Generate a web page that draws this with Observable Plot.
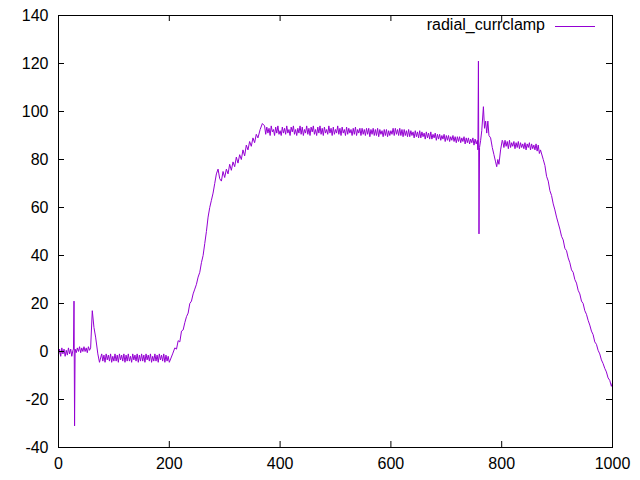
<!DOCTYPE html>
<html>
<head>
<meta charset="utf-8">
<script src="https://cdn.jsdelivr.net/npm/d3@7"></script>
<script src="https://cdn.jsdelivr.net/npm/@observablehq/plot@0.6"></script>
<style>
  html, body { margin: 0; padding: 0; background: #fff; }
  #wrap { position: relative; width: 640px; height: 480px; font-family: "Liberation Sans", Arial, sans-serif; }
  #legend-text { position: absolute; right: 95px; top: 16px; font-size: 16px; line-height: 18px; color: #000; white-space: nowrap; }
  #legend-line { position: absolute; left: 555px; width: 40px; top: 26px; border-top: 1px solid #9400d3; }
</style>
</head>
<body>
<div id="wrap"></div>
<script>
const seriesName = "radial_currclamp";
const xTicks = [0, 200, 400, 600, 800, 1000];
const yTicks = [-40, -20, 0, 20, 40, 60, 80, 100, 120, 140];

const t = [
  0,2,4,6,8,10,12,14,16,18,20,22,24,26,27,28,29,30,32,34,36,38,40,42,44,46,48,50,52,54,56,58,61,64,67,71,74,
  78,80,82,84,86,88,90,92,94,96,
  98,100,102,104,106,108,110,112,114,116,
  118,120,122,124,126,128,130,132,134,136,
  138,140,142,144,146,148,150,152,154,156,
  158,160,162,164,166,168,170,172,174,176,
  178,180,182,184,186,188,190,192,194,196,
  198,200,
  206,210,213,216,219,222,225,228,231,234,237,240,243,246,249,252,255,258,261,264,267,270,273,276,279,282,285,288,291,
  294,297,300,303,306,309,312,315,318,321,324,327,330,333,336,339,342,345,348,351,354,357,360,364,368,
  372,374,376,378,380,382,384,386,388,390,
  392,394,396,398,400,402,404,406,408,410,
  412,414,416,418,420,422,424,426,428,430,
  432,434,436,438,440,442,444,446,448,450,
  452,454,456,458,460,462,464,466,468,470,
  472,474,476,478,480,482,484,486,488,490,
  492,494,496,498,500,502,504,506,508,510,
  512,514,516,518,520,522,524,526,528,530,
  532,534,536,538,540,542,544,546,548,550,
  552,554,556,558,560,562,564,566,568,570,
  572,574,576,578,580,582,584,586,588,590,
  592,594,596,598,600,
  602,604,606,608,610,612,614,616,618,620,
  622,624,626,628,630,632,634,636,638,640,
  642,644,646,648,650,652,654,656,658,660,
  662,664,666,668,670,672,674,676,678,680,
  682,684,686,688,690,692,694,696,698,700,
  702,704,706,708,710,712,714,716,718,720,
  722,724,726,728,730,732,734,736,738,740,
  742,744,746,748,750,752,754,756,
  757,758,759,760,
  762,764,767,769,771,773,775,777,780,783,786,789,791,793,795,798,801,
  802,804,806,808,810,812,814,816,818,820,
  822,824,826,828,830,832,834,836,838,840,
  842,844,846,848,850,852,854,856,858,860,
  862,864,866,868,870,
  875,878,881,884,887,890,893,896,899,902,905,908,911,914,917,920,923,926,929,932,935,938,941,944,947,950,953,956,959,962,965,968,971,974,977,980,983,986,989,992,995,998,1000
];

const v = [
  -1.5,1,-2,1.5,-1,1,-2,0.5,-1.5,1.5,-1,1,-2,0.5,1,21,-31,1,-0.5,1.5,0,2,-0.5,1.5,0,2,0,1.5,-0.5,2,0.5,1.5,17,10,6,-1,-4.5,
  -1,-4,-1.5,-4.5,-1,-3.5,-1.5,-4,-1,-4.5,
  -2,-4,-1,-4,-1.5,-4.5,-1,-3.5,-1.5,-4,
  -1,-4.5,-1.5,-4,-1,-4,-2,-4.5,-1,-3.5,
  -1.5,-4,-1,-4.5,-1.5,-4,-1,-4,-1.5,-4.5,
  -1,-3.5,-1.5,-4,-1,-4.5,-2,-4,-1,-4,
  -1.5,-4.5,-1,-3.5,-1.5,-4,-1,-4.5,-1.5,-4,
  -2,-4.5,
  -1,1.5,1,4.5,4,8.5,9,12,14.5,16,20,21,24,26,28,31,33,37,40,45,50,56,60,63,66,70,74,76,72,
  71,75,72.5,76,74,78,75.5,79,77,81,78.5,82,80,84,81.5,86,84,87.5,85.5,89,87,90.5,89,92.5,95,
  94,90.5,93.5,91,93,90,94,91.5,92.5,90,
  93.5,91,94,90.5,92,90,93.5,91,93,90.5,
  94,91,92.5,90,93.5,91.5,94,90.5,92.5,90,
  93,91,94,90.5,93.5,90,92.5,91,94,90.5,
  93,90,93.5,91.5,94,90.5,92.5,90,93.5,91,
  94,90.5,93,90,93.5,91,92.5,90.5,94,91,
  93,90,93.5,90.5,92.5,91,94,90.5,93,90,
  93.5,91,92.5,90,93.5,90.5,93,91,92.5,90,
  93,90.5,93.5,90,92.5,91,93,90,93,90.5,
  92.5,90,93,90.5,93,89.5,92.5,90.5,93,90,
  92.5,90,93,89.5,92.5,90.5,92,89.5,92.5,90,
  92.5,89.5,92,90,92,
  90.5,93,90,93,90.5,92.5,90,93,90,92.5,
  89.5,92.5,90,92,89.5,92.5,89.5,92,90,91.5,
  89,92,89.5,91.5,89,92,89,91.5,89.5,91,
  88.5,91.5,89,91,88.5,91.5,88.5,90.5,89,91,
  88,90.5,88.5,90.5,88,90,88.5,90.5,87.5,90,
  88,90,87.5,89.5,88,90,87.5,89.5,87,89.5,
  87.5,89.5,87,89,87.5,89.5,86.5,89,87,89,
  86.5,88.5,87,89,86,88.5,86.5,88,
  84,121,49,85,
  88,92,102,93,96,91,96,90,89,85,82,79,77,80,78,84,88,
  87.5,85,88,85.5,87.5,84.5,88,85,87,85.5,
  87.5,84.5,87,85,87.5,84.5,87,85,86.5,84.5,
  87,84,86.5,85,87,84,86.5,84.5,86,84,
  86.5,83.5,86,82.5,84,
  80,77.5,73,71,67,65,61.5,59,56,53.5,51,48,46.5,43,42,39,37,34,33,30,28.5,25.5,24,21,20,17,15.5,13,11,8.5,7,4,3,0.5,-1,-3.5,-5,-7,-8.5,-11,-12,-14.5,-13
];

const idx = d3.range(Math.min(t.length, v.length));
const W = 640, H = 480, mL = 58, mR = 28, mT = 15, mB = 33;
const fw = W - mL - mR, fh = H - mT - mB, tk = 6;

const chart = Plot.plot({
  width: W, height: H,
  marginLeft: mL, marginRight: mR, marginTop: mT, marginBottom: mB,
  style: { fontFamily: '"Liberation Sans", Arial, sans-serif', fontSize: "16px", color: "#000", background: "#fff" },
  x: { domain: [0, 1000] },
  y: { domain: [-40, 140] },
  marks: [
    Plot.line(idx, { x: i => t[i], y: i => v[i], stroke: "#9400d3", strokeWidth: 1 }),
    Plot.tickX(xTicks, { x: d => d, insetTop: fh - tk, stroke: "#000" }),
    Plot.tickX(xTicks, { x: d => d, insetBottom: fh - tk, stroke: "#000" }),
    Plot.tickY(yTicks, { y: d => d, insetRight: fw - tk, stroke: "#000" }),
    Plot.tickY(yTicks, { y: d => d, insetLeft: fw - tk, stroke: "#000" }),
    Plot.frame({ stroke: "#000", strokeWidth: 1 }),
    Plot.axisX(xTicks, { tickSize: 0, tickPadding: 10, tickFormat: d => String(d), label: null, fill: "#000" }),
    Plot.axisY(yTicks, { tickSize: 0, tickPadding: 10, tickFormat: d => String(d), label: null, fill: "#000" })
  ]
});

const wrap = document.getElementById("wrap");
wrap.appendChild(chart);
const lt = document.createElement("div");
lt.id = "legend-text";
lt.textContent = seriesName;
wrap.appendChild(lt);
const ll = document.createElement("div");
ll.id = "legend-line";
wrap.appendChild(ll);
</script>
</body>
</html>
